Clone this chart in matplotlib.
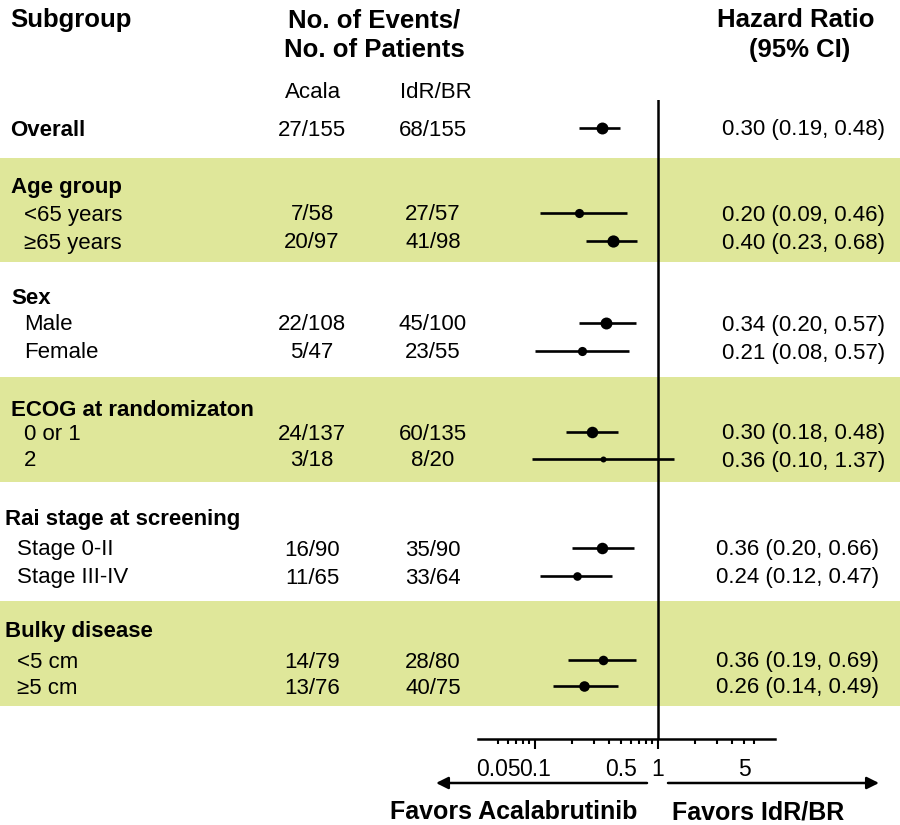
import matplotlib
matplotlib.use("Agg")
import matplotlib.pyplot as plt
import numpy as np

plt.rcParams['font.family'] = ['Liberation Sans', 'DejaVu Sans']

# headings of the subgroup blocks
group_names = ["Age group", "Sex", "ECOG at randomizaton",
               "Rai stage at screening", "Bulky disease"]

# rows carrying data
row_names = ["Overall", "<65 years", "\u226565 years", "Male", "Female",
             "0 or 1", "2", "Stage 0-II", "Stage III-IV", "<5 cm", "\u22655 cm"]
acala = ["27/155", "7/58", "20/97", "22/108", "5/47", "24/137", "3/18",
         "16/90", "11/65", "14/79", "13/76"]
idr_br = ["68/155", "27/57", "41/98", "45/100", "23/55", "60/135", "8/20",
          "35/90", "33/64", "28/80", "40/75"]
hr_text = ["0.30 (0.19, 0.48)", "0.20 (0.09, 0.46)", "0.40 (0.23, 0.68)",
           "0.34 (0.20, 0.57)", "0.21 (0.08, 0.57)", "0.30 (0.18, 0.48)",
           "0.36 (0.10, 1.37)", "0.36 (0.20, 0.66)", "0.24 (0.12, 0.47)",
           "0.36 (0.19, 0.69)", "0.26 (0.14, 0.49)"]
# point estimates and CI as drawn in the plot
hr = [0.35, 0.23, 0.43, 0.38, 0.24, 0.29, 0.36, 0.35, 0.22, 0.36, 0.25]
lo = [0.23, 0.11, 0.26, 0.23, 0.10, 0.18, 0.095, 0.20, 0.11, 0.185, 0.14]
hi = [0.49, 0.56, 0.675, 0.66, 0.58, 0.47, 1.35, 0.64, 0.42, 0.66, 0.47]

major_ticks = [0.1, 1]
minor_ticks = [0.05, 0.06, 0.07, 0.08, 0.09, 0.2, 0.3, 0.4, 0.5, 0.6, 0.7,
               0.8, 0.9, 2, 3, 4, 5, 6]
minor_labels = {0.05: "0.05", 0.5: "0.5", 5: "5"}

# layout (pixel positions on a 900x825 canvas)
dy = 2  # text nudge
group_y = [186, 296, 408, 518, 630]
group_x = [11, 11, 11, 5, 5]
row_y = [128, 213, 241, 323, 351, 432, 459, 548, 576, 660, 686]
row_x = [10, 24, 24, 24, 24, 24, 24, 17, 17, 17, 17]
hr_x = [885, 885, 885, 885, 885, 885, 885, 879, 879, 879, 879]
box_pt = [8.6, 6.6, 8.8, 8.6, 6.6, 8.3, 4.3, 8.3, 6.2, 6.9, 7.6]
bands = [(158, 262), (377, 482), (601, 706)]
band_color = "#dfe79a"

fig = plt.figure(figsize=(9, 8.25), dpi=100)
bg = fig.add_axes([0, 0, 1, 1])
bg.set_xlim(0, 900)
bg.set_ylim(825, 0)
bg.axis("off")

for y0, y1 in bands:
    bg.axhspan(y0, y1, color=band_color, lw=0, zorder=0)

# column headers
hfs = 18.5
fs = 16
bg.text(10, 18 + dy, "Subgroup", fontsize=hfs, fontweight="bold", va="center")
bg.text(374, 18 + dy, "No. of Events/", fontsize=hfs, fontweight="bold", va="center", ha="center")
bg.text(374, 48 + dy, "No. of Patients", fontsize=hfs, fontweight="bold", va="center", ha="center")
bg.text(796, 18 + dy, "Hazard Ratio", fontsize=hfs, fontweight="bold", va="center", ha="center")
bg.text(800, 48 + dy, "(95% CI)", fontsize=hfs, fontweight="bold", va="center", ha="center")
bg.text(313, 90 + dy, "Acala", fontsize=fs, va="center", ha="center")
bg.text(436, 90 + dy, "IdR/BR", fontsize=fs, va="center", ha="center")

for name, x, y in zip(group_names, group_x, group_y):
    bg.text(x, y + dy, name, fontsize=fs, fontweight="bold", va="center")

for i, name in enumerate(row_names):
    w = "bold" if name == "Overall" else "normal"
    y = row_y[i] + dy
    bg.text(row_x[i], y, name, fontsize=fs, fontweight=w, va="center")
    bg.text(312, y, acala[i], fontsize=fs, va="center", ha="center")
    bg.text(433, y, idr_br[i], fontsize=fs, va="center", ha="center")
    bg.text(hr_x[i], y, hr_text[i], fontsize=fs, va="center", ha="right")

# forest panel
x_left, x_right, x_one, decade = 478, 775, 658, 123
top, bottom = 100, 739
ax = fig.add_axes([x_left / 900, (825 - bottom) / 825,
                   (x_right - x_left) / 900, (bottom - top) / 825])
ax.set_xscale("log")
ax.set_xlim(10 ** ((x_left - x_one) / decade), 10 ** ((x_right - x_one) / decade))
ax.set_ylim(bottom, top)
ax.patch.set_alpha(0)
for s in ["top", "left", "right"]:
    ax.spines[s].set_visible(False)
ax.spines["bottom"].set_linewidth(1.8)
ax.set_yticks([])

ax.axvline(1, color="black", lw=1.8)
for i in range(len(hr)):
    ax.plot([lo[i], hi[i]], [row_y[i], row_y[i]], color="black", lw=1.9,
            solid_capstyle="butt")
    ax.plot(hr[i], row_y[i], "o", color="black", ms=box_pt[i], mew=0)

ax.set_xticks(major_ticks, labels=["0.1", "1"])
ax.set_xticks(minor_ticks, minor=True,
              labels=[minor_labels.get(t, "") for t in minor_ticks])
ax.tick_params(axis="x", which="major", length=7, width=1.5, pad=6.5,
               labelsize=16.5)
ax.tick_params(axis="x", which="minor", length=3.5, width=1.5, pad=10,
               labelsize=16.5)

# favour arrows and labels
arrow = dict(arrowstyle="-|>", color="black", lw=1.8, mutation_scale=18,
             shrinkA=0, shrinkB=0)
bg.annotate("", xy=(436, 783), xytext=(647, 783), arrowprops=arrow)
bg.annotate("", xy=(879, 783), xytext=(668, 783), arrowprops=arrow)
bg.text(514, 810 + dy, "Favors Acalabrutinib", fontsize=18, fontweight="bold",
        va="center", ha="center")
bg.text(758, 810 + dy, "Favors IdR/BR", fontsize=18, fontweight="bold",
        va="center", ha="center")

fig.savefig("out.png", dpi=100)
